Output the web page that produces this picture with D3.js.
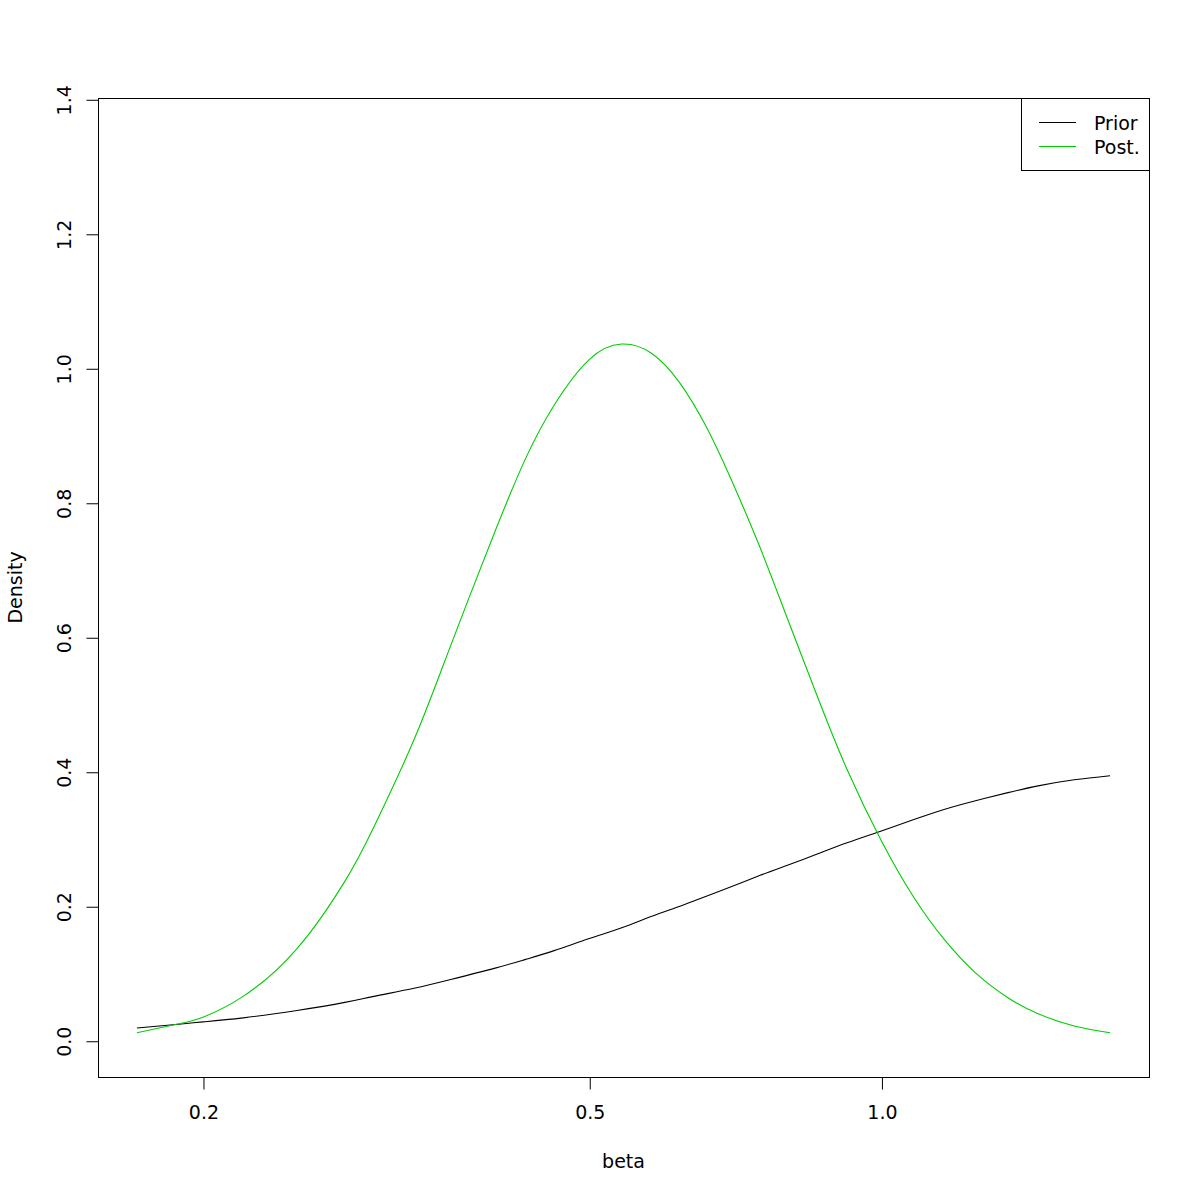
<!DOCTYPE html>
<html>
<head>
<meta charset="utf-8">
<script src="https://cdn.jsdelivr.net/npm/d3@7"></script>
<style>
  html, body { margin: 0; padding: 0; background: #ffffff; }
  svg { display: block; }
  text { font-family: "DejaVu Sans", sans-serif; fill: #000; }
</style>
</head>
<body>
<svg id="chart" width="1200" height="1200"></svg>
<script>
// ---- data ----
const beta = [0.171, 0.19, 0.2, 0.22, 0.25, 0.28, 0.3, 0.33, 0.36, 0.4, 0.43, 0.46, 0.5, 0.54,
              0.58, 0.62, 0.66, 0.7, 0.75, 0.8, 0.86, 0.92, 1.0, 1.08, 1.16, 1.25, 1.35, 1.45, 1.58, 1.72];
const priorDensity = [0.019, 0.025, 0.028, 0.034, 0.045, 0.057, 0.066, 0.078, 0.091, 0.108, 0.121, 0.134, 0.152, 0.168,
                      0.185, 0.200, 0.215, 0.229, 0.246, 0.261, 0.278, 0.294, 0.312, 0.329, 0.344, 0.357, 0.369, 0.379, 0.388, 0.394];
const postDensity = [0.012, 0.026, 0.035, 0.066, 0.137, 0.237, 0.318, 0.448, 0.588, 0.758, 0.866, 0.945, 1.013, 1.036,
                     1.022, 0.978, 0.913, 0.835, 0.733, 0.628, 0.510, 0.406, 0.297, 0.213, 0.151, 0.101, 0.064, 0.040, 0.022, 0.012];
const xTicks = [0.2, 0.5, 1.0];
const xTickLabels = ["0.2", "0.5", "1.0"];
const yTicks = [0, 0.2, 0.4, 0.6, 0.8, 1.0, 1.2, 1.4];
const yTickLabels = ["0.0", "0.2", "0.4", "0.6", "0.8", "1.0", "1.2", "1.4"];
const yLimit = [0, 1.348];
const seriesNames = ["Prior", "Post."];
const seriesColors = ["#000000", "#00CD00"];
const xLabel = "beta";
const yLabel = "Density";

// ---- layout ----
const plot = { left: 98, right: 1149, top: 98, bottom: 1077 };
const fs = 19;

const svg = d3.select("#chart");

// R-style 4% axis expansion (log space for x)
const lx0 = Math.log10(d3.min(beta)), lx1 = Math.log10(d3.max(beta));
const dx = (lx1 - lx0) * 0.04;
const x = d3.scaleLog()
  .domain([Math.pow(10, lx0 - dx), Math.pow(10, lx1 + dx)])
  .range([plot.left, plot.right]);
const dy = (yLimit[1] - yLimit[0]) * 0.04;
const y = d3.scaleLinear()
  .domain([yLimit[0] - dy, yLimit[1] + dy])
  .range([plot.bottom, plot.top]);

// curves
const series = [
  beta.map((b, i) => ({ b, v: priorDensity[i] })),
  beta.map((b, i) => ({ b, v: postDensity[i] }))
];
const line = d3.line().x(d => x(d.b)).y(d => y(d.v)).curve(d3.curveNatural);
const clipId = "plotclip";
svg.append("clipPath").attr("id", clipId).append("rect")
  .attr("x", plot.left).attr("y", plot.top)
  .attr("width", plot.right - plot.left).attr("height", plot.bottom - plot.top);
series.forEach((s, i) => {
  svg.append("path")
    .datum(s)
    .attr("d", line)
    .attr("fill", "none")
    .attr("stroke", seriesColors[i])
    .attr("stroke-width", 1.1)
    .attr("clip-path", `url(#${clipId})`);
});

// box
svg.append("rect")
  .attr("x", plot.left + 0.5).attr("y", plot.top + 0.5)
  .attr("width", plot.right - plot.left).attr("height", plot.bottom - plot.top)
  .attr("fill", "none").attr("stroke", "#000").attr("stroke-width", 1);

// x axis
const xAxis = d3.axisBottom(x).tickValues(xTicks)
  .tickFormat((d, i) => xTickLabels[i]).tickSize(12).tickPadding(16);
const gx = svg.append("g").attr("transform", `translate(0.5,${plot.bottom + 0.5})`).call(xAxis);
gx.select(".domain").attr("d", `M${x(xTicks[0])},0H${x(xTicks[xTicks.length - 1])}`).attr("stroke", "#000");
gx.selectAll(".tick line").attr("stroke", "#000");
gx.selectAll(".tick text").attr("font-size", fs).attr("font-family", "DejaVu Sans").attr("fill", "#000");

// y axis
const yAxis = d3.axisLeft(y).tickValues(yTicks)
  .tickFormat((d, i) => yTickLabels[i]).tickSize(12);
const gy = svg.append("g").attr("transform", `translate(${plot.left + 0.5},0.5)`).call(yAxis);
gy.select(".domain").attr("d", `M0,${y(yTicks[0])}V${y(yTicks[yTicks.length - 1])}`).attr("stroke", "#000");
gy.selectAll(".tick line").attr("stroke", "#000");
gy.selectAll(".tick text")
  .attr("font-size", fs).attr("font-family", "DejaVu Sans").attr("fill", "#000")
  .attr("x", null).attr("dy", null)
  .attr("text-anchor", "middle")
  .attr("transform", "translate(-28,0) rotate(-90)");

// axis titles
svg.append("text").attr("x", (plot.left + plot.right) / 2).attr("y", 1168)
  .attr("text-anchor", "middle").attr("font-size", fs).text(xLabel);
svg.append("text")
  .attr("transform", `translate(22,${(plot.top + plot.bottom) / 2}) rotate(-90)`)
  .attr("text-anchor", "middle").attr("font-size", fs).text(yLabel);

// legend
const lg = svg.append("g");
lg.append("rect").attr("x", 1021.5).attr("y", plot.top + 0.5)
  .attr("width", plot.right - 1021).attr("height", 72)
  .attr("fill", "#fff").attr("stroke", "#000").attr("stroke-width", 1);
seriesNames.forEach((name, i) => {
  const ly = 122.5 + i * 24;
  lg.append("line").attr("x1", 1039).attr("x2", 1076).attr("y1", ly).attr("y2", ly)
    .attr("stroke", seriesColors[i]).attr("stroke-width", 1.1);
  lg.append("text").attr("x", 1094).attr("y", ly + 7).attr("font-size", fs).text(name);
});
</script>
</body>
</html>
